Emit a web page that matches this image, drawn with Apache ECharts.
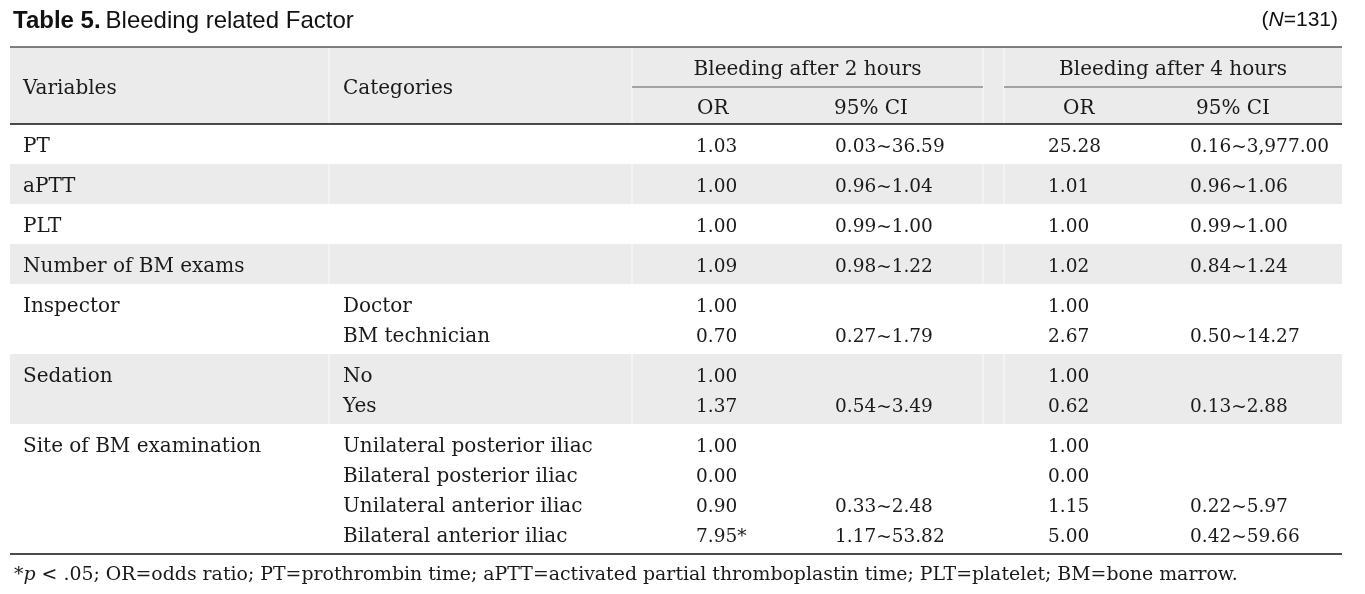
<!DOCTYPE html>
<html>
<head>
<meta charset="utf-8">
<script src="https://cdn.jsdelivr.net/npm/echarts@6/dist/echarts.min.js"></script>
<style>
html,body{margin:0;padding:0;background:#fff;}
#chart{width:1365px;height:594px;}
</style>
</head>
<body>
<div id="chart"></div>
<script>
// ---------- DATA ----------
const titleBold = 'Table 5.';
const titleText = 'Bleeding related Factor';
const sampleLabel = ['N', '=131'];
const headerTop = ['Variables', 'Categories', 'Bleeding after 2 hours', 'Bleeding after 4 hours'];
const headerSub = ['OR', '95% CI', 'OR', '95% CI'];
const variables = ['PT', 'aPTT', 'PLT', 'Number of BM exams', 'Inspector', 'Sedation', 'Site of BM examination'];
const categories = [[''], [''], [''], [''], ['Doctor', 'BM technician'], ['No', 'Yes'],
  ['Unilateral posterior iliac', 'Bilateral posterior iliac', 'Unilateral anterior iliac', 'Bilateral anterior iliac']];
const or2h = [['1.03'], ['1.00'], ['1.00'], ['1.09'], ['1.00', '0.70'], ['1.00', '1.37'], ['1.00', '0.00', '0.90', '7.95*']];
const ci2h = [['0.03~36.59'], ['0.96~1.04'], ['0.99~1.00'], ['0.98~1.22'], ['', '0.27~1.79'], ['', '0.54~3.49'],
  ['', '', '0.33~2.48', '1.17~53.82']];
const or4h = [['25.28'], ['1.01'], ['1.00'], ['1.02'], ['1.00', '2.67'], ['1.00', '0.62'], ['1.00', '0.00', '1.15', '5.00']];
const ci4h = [['0.16~3,977.00'], ['0.96~1.06'], ['0.99~1.00'], ['0.84~1.24'], ['', '0.50~14.27'], ['', '0.13~2.88'],
  ['', '', '0.22~5.97', '0.42~59.66']];
const footnoteParts = ['*', 'p', ' < .05; OR=odds ratio; PT=prothrombin time; aPTT=activated partial thromboplastin time; PLT=platelet; BM=bone marrow.'];

// ---------- LAYOUT (not data) ----------
const TABLE_W = 1332;          // x-axis units
const HEADER_H = 77, HEADER_SPLIT = 40, LINE_H = 30, ROW_PAD = 10;
const TEXT_NUDGE = 3;          // baseline nudge in axis units
const colEdges = [0, 319, 622, 973, 994, TABLE_W];
const textX = {variable: 13, category: 333, or2: 686, ci2: 825, or4: 1038, ci4: 1180};
const headTextX = {variable: 13, category: 333, or2: 687, ci2: 824, or4: 1053, ci4: 1186};
const SERIF = '"DejaVu Serif", "Liberation Serif", serif';
const SANS = '"Liberation Sans", Arial, sans-serif';
const FS = 20, FS_NUM = 18.5;
const INK = '#1a1a1a';
const SHADE = '#ebebeb';

// build group rows (y in axis units)
const groups = [];
let yCursor = HEADER_H;
variables.forEach((v, i) => {
  const n = categories[i].length;
  const h = n * LINE_H + ROW_PAD;
  groups.push([yCursor, yCursor + h, i]);
  yCursor += h;
});
const TABLE_H = yCursor;

function txt(x, y, s, opt) {
  return {
    type: 'text',
    style: Object.assign({
      text: s, x: x, y: y, fill: INK, fontFamily: SERIF, fontSize: FS,
      align: 'left', verticalAlign: 'middle'
    }, opt || {})
  };
}

function renderGroup(params, api) {
  const y0 = api.value(0), y1 = api.value(1), gi = api.value(2);
  const pTL = api.coord([0, y0]);
  const pBR = api.coord([TABLE_W, y1]);
  const children = [];
  if (gi % 2 === 1) {
    children.push({type: 'rect', shape: {x: pTL[0], y: pTL[1], width: pBR[0] - pTL[0], height: pBR[1] - pTL[1]},
      style: {fill: SHADE}});
    for (let k = 1; k < colEdges.length - 1; k++) {
      const xe = api.coord([colEdges[k], 0])[0];
      children.push({type: 'line', shape: {x1: xe, y1: pTL[1], x2: xe, y2: pBR[1]},
        style: {stroke: '#f6f6f6', lineWidth: 1.5}});
    }
  }
  const n = categories[gi].length;
  const num = {fontSize: FS_NUM};
  for (let li = 0; li < n; li++) {
    const yc = api.coord([0, y0 + ROW_PAD / 2 + LINE_H / 2 + li * LINE_H + TEXT_NUDGE])[1];
    const cx = k => api.coord([textX[k], 0])[0];
    if (li === 0) children.push(txt(cx('variable'), yc, variables[gi]));
    children.push(txt(cx('category'), yc, categories[gi][li]));
    children.push(txt(cx('or2'), yc, or2h[gi][li], num));
    children.push(txt(cx('ci2'), yc, ci2h[gi][li], num));
    children.push(txt(cx('or4'), yc, or4h[gi][li], num));
    children.push(txt(cx('ci4'), yc, ci4h[gi][li], num));
  }
  return {type: 'group', children: children};
}

function renderHeader(params, api) {
  const c = (x, y) => api.coord([x, y]);
  const children = [];
  const tl = c(0, 0), br = c(TABLE_W, HEADER_H);
  children.push({type: 'rect', shape: {x: tl[0], y: tl[1], width: br[0] - tl[0], height: br[1] - tl[1]}, style: {fill: SHADE}});
  for (let k = 1; k < colEdges.length - 1; k++) {
    const xe = c(colEdges[k], 0)[0];
    children.push({type: 'line', shape: {x1: xe, y1: tl[1], x2: xe, y2: br[1]}, style: {stroke: '#f6f6f6', lineWidth: 1.5}});
  }
  children.push({type: 'line', shape: {x1: tl[0], y1: tl[1], x2: br[0], y2: tl[1]}, style: {stroke: '#5a5a5a', lineWidth: 1.3}});
  const ys = c(0, HEADER_SPLIT)[1];
  children.push({type: 'line', shape: {x1: c(colEdges[2], 0)[0], y1: ys, x2: c(colEdges[3], 0)[0], y2: ys}, style: {stroke: '#5a5a5a', lineWidth: 1.2}});
  children.push({type: 'line', shape: {x1: c(colEdges[4], 0)[0], y1: ys, x2: c(colEdges[5], 0)[0], y2: ys}, style: {stroke: '#5a5a5a', lineWidth: 1.2}});
  children.push({type: 'line', shape: {x1: tl[0], y1: br[1], x2: br[0], y2: br[1]}, style: {stroke: '#111', lineWidth: 1.6}});
  const yb = c(0, TABLE_H)[1];
  children.push({type: 'line', shape: {x1: tl[0], y1: yb, x2: br[0], y2: yb}, style: {stroke: '#111', lineWidth: 1.6}});
  const yMid = c(0, HEADER_H / 2 + TEXT_NUDGE)[1];
  const yTopMid = c(0, HEADER_SPLIT / 2 + TEXT_NUDGE)[1];
  const ySubMid = c(0, (HEADER_SPLIT + HEADER_H) / 2 + TEXT_NUDGE)[1];
  children.push(txt(c(headTextX.variable, 0)[0], yMid, headerTop[0]));
  children.push(txt(c(headTextX.category, 0)[0], yMid, headerTop[1]));
  children.push(txt(c((colEdges[2] + colEdges[3]) / 2, 0)[0], yTopMid, headerTop[2], {align: 'center'}));
  children.push(txt(c((colEdges[4] + colEdges[5]) / 2, 0)[0], yTopMid, headerTop[3], {align: 'center'}));
  children.push(txt(c(headTextX.or2, 0)[0], ySubMid, headerSub[0]));
  children.push(txt(c(headTextX.ci2, 0)[0], ySubMid, headerSub[1]));
  children.push(txt(c(headTextX.or4, 0)[0], ySubMid, headerSub[2]));
  children.push(txt(c(headTextX.ci4, 0)[0], ySubMid, headerSub[3]));
  return {type: 'group', children: children};
}

const chart = echarts.init(document.getElementById('chart'), null, {renderer: 'canvas'});
chart.setOption({
  animation: false,
  backgroundColor: '#ffffff',
  title: [
    {
      text: '{b|' + titleBold + '} {r|' + titleText + '}',
      left: 8, top: 4,
      textStyle: {fontWeight: 'normal', rich: {
        b: {fontFamily: SANS, fontWeight: 'bold', fontSize: 24, color: '#111'},
        r: {fontFamily: SANS, fontWeight: 'normal', fontSize: 24, color: '#111'}
      }}
    },
    {
      text: '{n|(}{i|' + sampleLabel[0] + '}{n|' + sampleLabel[1] + ')}',
      right: 22, top: 5,
      textStyle: {fontWeight: 'normal', rich: {
        n: {fontFamily: SANS, fontSize: 21, fontWeight: 'normal', color: '#111'},
        i: {fontFamily: SANS, fontSize: 21, fontWeight: 'normal', fontStyle: 'italic', color: '#111'}
      }}
    },
    {
      text: '{n|' + footnoteParts[0] + '}{i|' + footnoteParts[1] + '}{n|' + footnoteParts[2] + '}',
      left: 9, top: 561,
      textStyle: {fontWeight: 'normal', rich: {
        n: {fontFamily: SERIF, fontSize: 18.9, fontWeight: 'normal', color: INK},
        i: {fontFamily: SERIF, fontSize: 18.9, fontWeight: 'normal', fontStyle: 'italic', color: INK}
      }}
    }
  ],
  grid: {left: 10, top: 47, width: TABLE_W, height: TABLE_H, containLabel: false},
  xAxis: {type: 'value', min: 0, max: TABLE_W, show: false},
  yAxis: {type: 'value', min: 0, max: TABLE_H, inverse: true, show: false},
  series: [
    {type: 'custom', renderItem: renderHeader, data: [[0]], silent: true, clip: false, z: 1},
    {type: 'custom', renderItem: renderGroup, data: groups, encode: {y: [0, 1]}, silent: true, clip: false, z: 2}
  ]
});
</script>
</body>
</html>
